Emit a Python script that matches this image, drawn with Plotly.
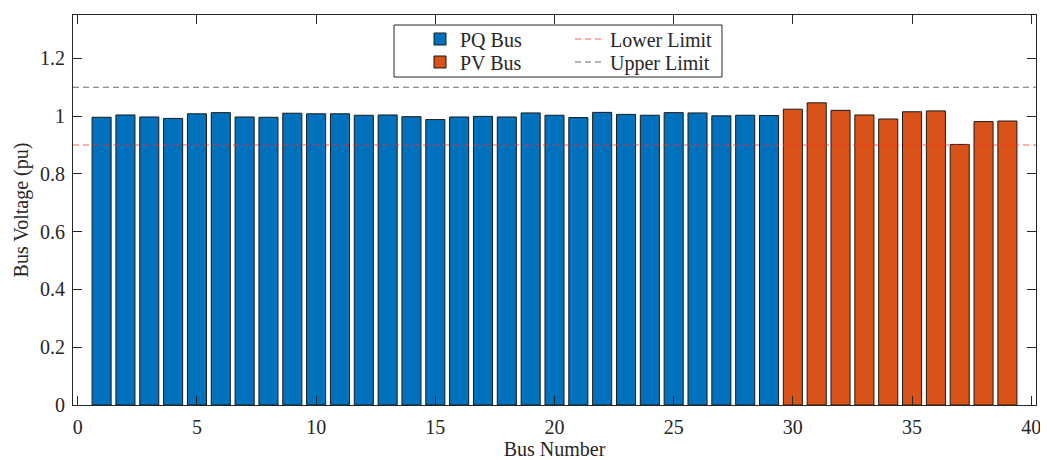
import plotly.graph_objects as go

# ---- data ----
pq_bus = list(range(1, 30))
pq_voltage = [0.996, 1.004, 0.997, 0.992, 1.008, 1.012, 0.997, 0.996, 1.010, 1.008,
              1.008, 1.003, 1.004, 0.998, 0.988, 0.997, 0.999, 0.997, 1.011, 1.003,
              0.995, 1.013, 1.006, 1.003, 1.012, 1.011, 1.001, 1.003, 1.002]
pv_bus = list(range(30, 40))
pv_voltage = [1.024, 1.046, 1.020, 1.004, 0.990, 1.015, 1.018, 0.902, 0.981, 0.983]
lower_limit = 0.9
upper_limit = 1.1
x_range = [-0.2, 40.2]
y_range = [0, 1.35]
x_ticks = [0, 5, 10, 15, 20, 25, 30, 35, 40]
y_ticks = [0, 0.2, 0.4, 0.6, 0.8, 1, 1.2]
y_tick_text = ["0", "0.2", "0.4", "0.6", "0.8", "1", "1.2"]

FONT = "Liberation Serif, Times New Roman, serif"
TXT = "#262626"

fig = go.Figure()
fig.add_trace(go.Bar(x=pq_bus, y=pq_voltage, width=0.8, name="PQ Bus",
                     marker=dict(color="#0072BD", line=dict(color="#1a1a1a", width=1)),
                     legend="legend"))
fig.add_trace(go.Bar(x=pv_bus, y=pv_voltage, width=0.8, name="PV Bus",
                     marker=dict(color="#D95319", line=dict(color="#1a1a1a", width=1)),
                     legend="legend3"))
fig.add_trace(go.Scatter(x=x_range, y=[lower_limit, lower_limit], mode="lines",
                         name="Lower Limit",
                         line=dict(color="rgba(255,40,40,0.5)", width=1.5, dash="6px,4px"),
                         legend="legend2"))
fig.add_trace(go.Scatter(x=x_range, y=[upper_limit, upper_limit], mode="lines",
                         name="Upper Limit",
                         line=dict(color="rgba(0,0,0,0.6)", width=1, dash="6px,4px"),
                         legend="legend4"))

# page body adds an 8px offset; work in screen pixels of the target
OFF = 8
W, H = 1048 - 2 * OFF, 460 - OFF
L, T = 73 - OFF, 15 - OFF
R = W - (1036 - OFF)
B = H - (405 - OFF)
pw, ph = W - L - R, H - T - B

def px(xs):
    return (xs - OFF - L) / pw

def py(ys):
    return (H - B - (ys - OFF)) / ph

axis_common = dict(showline=True, linecolor=TXT, linewidth=1, mirror="ticks",
                   ticks="inside", ticklen=9, tickwidth=1, tickcolor=TXT,
                   showgrid=False, zeroline=False, automargin=True,
                   ticklabeloverflow="allow",
                   tickfont=dict(family=FONT, size=20, color=TXT))

def leg(xs, ys):
    return dict(x=px(xs), y=py(ys), xanchor="left", yanchor="middle",
                bgcolor="rgba(0,0,0,0)", borderwidth=0, tracegroupgap=0,
                font=dict(family=FONT, size=20, color=TXT), itemwidth=30)

fig.update_layout(
    width=W, height=H,
    margin=dict(l=L, r=R, t=T, b=B, autoexpand=False),
    plot_bgcolor="white", paper_bgcolor="white",
    barmode="overlay",
    font=dict(family=FONT, size=20, color=TXT),
    xaxis=dict(range=x_range, tickvals=x_ticks, ticktext=[str(v) for v in x_ticks],
               ticklabelstandoff=4,
               title=dict(text="Bus Number", font=dict(family=FONT, size=20, color=TXT), standoff=9),
               **axis_common),
    yaxis=dict(range=y_range, tickvals=y_ticks, ticktext=y_tick_text,
               ticklabelstandoff=3,
               title=dict(text="Bus Voltage (pu)", font=dict(family=FONT, size=20, color=TXT), standoff=6),
               **axis_common),
    legend=leg(420, 39),
    legend3=leg(420, 62),
    legend2=leg(570, 39),
    legend4=leg(570, 62),
    showlegend=True,
    shapes=[dict(type="rect", xref="paper", yref="paper",
                 x0=px(394), x1=px(722), y0=py(77), y1=py(25),
                 line=dict(color=TXT, width=1), fillcolor="white", layer="above")],
)
fig.write_html("out.html")
